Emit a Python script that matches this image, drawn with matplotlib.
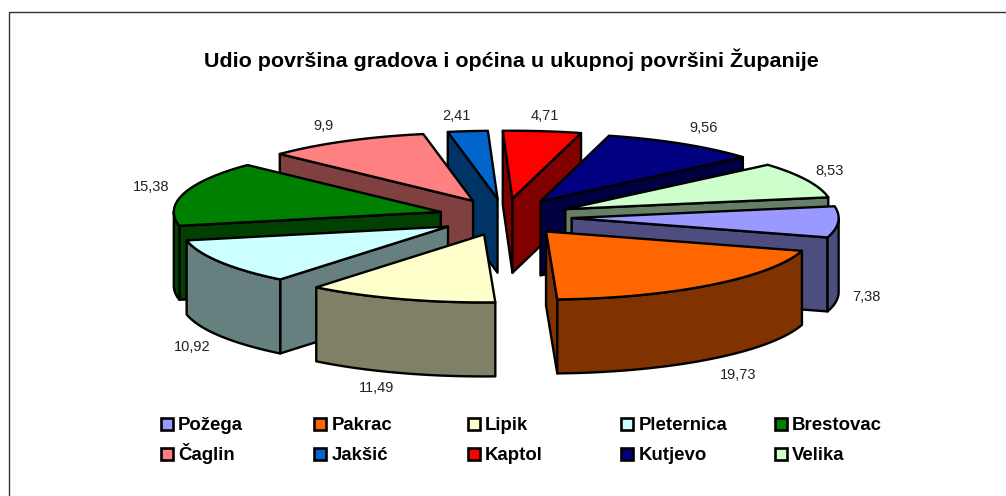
import matplotlib
matplotlib.use("Agg")
import matplotlib.pyplot as plt
from matplotlib.patches import Polygon, Rectangle
import numpy as np

# data
names = ["Požega", "Pakrac", "Lipik", "Pleternica", "Brestovac",
         "Čaglin", "Jakšić", "Kaptol", "Kutjevo", "Velika"]
values = [7.38, 19.73, 11.49, 10.92, 15.38, 9.9, 2.41, 4.71, 9.56, 8.53]
value_labels = ["7,38", "19,73", "11,49", "10,92", "15,38",
                "9,9", "2,41", "4,71", "9,56", "8,53"]
title = "Udio površina gradova i općina u ukupnoj površini Županije"

# style
top_colors = ["#9999FF", "#FF6600", "#FFFFCC", "#CCFFFF", "#008000",
              "#FF8080", "#0066CC", "#FF0000", "#000080", "#CCFFCC"]
side_colors = ["#4D4D80", "#803300", "#808066", "#668080", "#004000",
               "#804040", "#003366", "#800000", "#000040", "#668066"]
label_pos = [(866, 297), (738, 375), (377, 388), (192, 347), (151, 187),
             (324, 126), (456, 116), (545, 116), (704, 128), (830, 171)]

# pie geometry, in pixels of the picture
cx, cy = 505, 217
rx, ry = 267, 68
depth = 74
explode_x, explode_y = 0.25, 0.27
start_angle = 80
lw = 1.7

plt.rcParams["font.family"] = ["Liberation Sans", "DejaVu Sans"]

fig = plt.figure(figsize=(10.06, 4.96), dpi=100)
ax = fig.add_axes([0, 0, 1, 1])
ax.set_xlim(0, 1006)
ax.set_ylim(496, 0)
ax.axis("off")

ax.add_patch(Rectangle((9.5, 11.5), 1100, 600, fill=False, edgecolor="#333333", lw=1.0))


def point(apex, angle, r=1.0):
    # angle is clockwise from the top of the pie, in degrees
    a = np.radians(angle)
    return apex[0] + r * rx * np.sin(a), apex[1] - r * ry * np.cos(a)


def draw_slice(i, a0, a1):
    mid = np.radians((a0 + a1) / 2)
    apex = (cx + explode_x * rx * np.sin(mid), cy - explode_y * ry * np.cos(mid))
    style = dict(edgecolor="black", lw=lw, joinstyle="round")

    # radial walls that face the viewer
    for a, visible in ((a0, np.sin(np.radians(a0)) < 0), (a1, np.sin(np.radians(a1)) > 0)):
        if visible:
            x, y = point(apex, a)
            ax.add_patch(Polygon([apex, (x, y), (x, y + depth), (apex[0], apex[1] + depth)],
                                 facecolor=side_colors[i], **style))

    # outer wall, front half of the circle only
    lo, hi = max(a0, 90), min(a1, 270)
    if hi > lo:
        arc = np.linspace(lo, hi, 80)
        xs, ys = point(apex, arc)
        pts = list(zip(xs, ys)) + list(zip(xs[::-1], ys[::-1] + depth))
        ax.add_patch(Polygon(pts, facecolor=side_colors[i], **style))

    # top face
    arc = np.linspace(a0, a1, 80)
    xs, ys = point(apex, arc)
    ax.add_patch(Polygon([apex] + list(zip(xs, ys)), facecolor=top_colors[i], **style))


edges = start_angle + np.concatenate(([0], np.cumsum(values))) / sum(values) * 360
mids = (edges[:-1] + edges[1:]) / 2

# back slices first
for i in np.argsort(-np.cos(np.radians(mids))):
    draw_slice(i, edges[i], edges[i + 1])

for txt, (x, y) in zip(value_labels, label_pos):
    ax.text(x, y, txt, ha="center", va="center", fontsize=10.5, color="#222222")

ax.text(511.5, 67, title, ha="center", va="baseline", fontsize=15.45, fontweight="bold", color="black")

# legend, two rows of five
for i, name in enumerate(names):
    x = 161 + 153.5 * (i % 5)
    y = 424 + 30 * (i // 5)
    ax.add_patch(Rectangle((x, y - 6), 12, 12, facecolor=top_colors[i], edgecolor="black", lw=1.9))
    ax.text(x + 17, y + 6, name, ha="left", va="baseline", fontsize=13.4, fontweight="bold", color="black")

fig.savefig("out.png", dpi=100)
